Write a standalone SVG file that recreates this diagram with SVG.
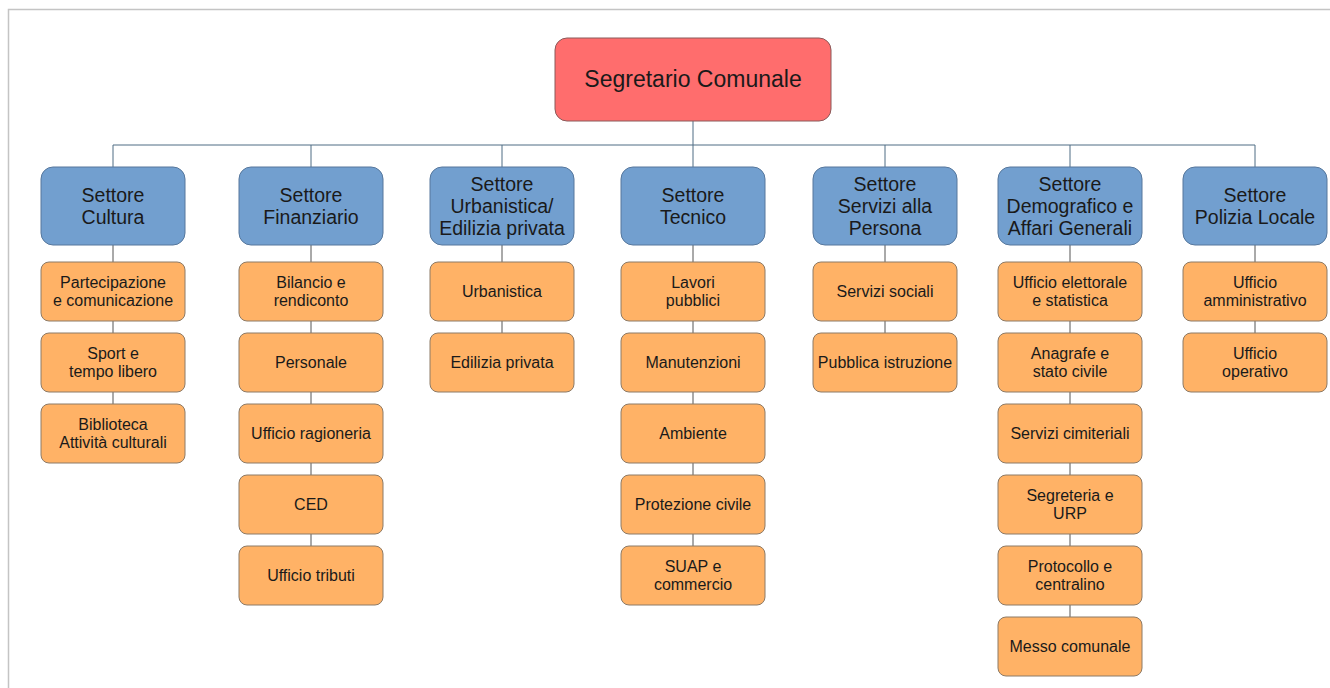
<svg xmlns="http://www.w3.org/2000/svg" width="1330" height="688" viewBox="0 0 1330 688">
<style>
text{font-family:"Liberation Sans",Arial,sans-serif;fill:#1a1a1a;text-anchor:middle}
.top rect{fill:#ff6d6d;stroke:#8a5a5a;stroke-width:1}
.top text{font-size:23px}
.sec rect{fill:#729fcf;stroke:#56779c;stroke-width:1}
.sec text{font-size:19.5px}
.off rect{fill:#ffb266;stroke:#8c7a66;stroke-width:1}
.off text{font-size:16px}
.lk{stroke:#4f6d84;stroke-width:1;fill:none}
.lc{stroke:#555;stroke-width:1;fill:none}
</style>
<rect x="0" y="0" width="1330" height="688" fill="#fff"/>
<path d="M8.5,688 V9.5 H1330" fill="none" stroke="#c4c4c4" stroke-width="1.5"/>

<g id="connectors">
<path class="lk" d="M693,121 V145 M113,145 H1255 M113,145 V167 M311,145 V167 M502,145 V167 M693,145 V167 M885,145 V167 M1070,145 V167 M1255,145 V167"/>
<path class="lc" d="M113,245 V262 M113,321 V333 M113,392 V404
M311,245 V262 M311,321 V333 M311,392 V404 M311,463 V475 M311,534 V546
M502,245 V262 M502,321 V333
M693,245 V262 M693,321 V333 M693,392 V404 M693,463 V475 M693,534 V546
M885,245 V262 M885,321 V333
M1070,245 V262 M1070,321 V333 M1070,392 V404 M1070,463 V475 M1070,534 V546 M1070,605 V617
M1255,245 V262 M1255,321 V333"/>
</g>

<g id="segretario" class="top"><rect x="555" y="38" width="276" height="83" rx="12"/><text x="693" y="87">Segretario Comunale</text></g>

<g id="sett-cultura" class="sec"><rect x="41" y="167" width="144" height="78" rx="12"/><text x="113" y="202">Settore<tspan x="113" dy="22">Cultura</tspan></text></g>
<g id="sett-finanziario" class="sec"><rect x="239" y="167" width="144" height="78" rx="12"/><text x="311" y="202">Settore<tspan x="311" dy="22">Finanziario</tspan></text></g>
<g id="sett-urbanistica" class="sec"><rect x="430" y="167" width="144" height="78" rx="12"/><text x="502" y="191">Settore<tspan x="502" dy="22">Urbanistica/</tspan><tspan x="502" dy="22">Edilizia privata</tspan></text></g>
<g id="sett-tecnico" class="sec"><rect x="621" y="167" width="144" height="78" rx="12"/><text x="693" y="202">Settore<tspan x="693" dy="22">Tecnico</tspan></text></g>
<g id="sett-servizi" class="sec"><rect x="813" y="167" width="144" height="78" rx="12"/><text x="885" y="191">Settore<tspan x="885" dy="22">Servizi alla</tspan><tspan x="885" dy="22">Persona</tspan></text></g>
<g id="sett-demografico" class="sec"><rect x="998" y="167" width="144" height="78" rx="12"/><text x="1070" y="191">Settore<tspan x="1070" dy="22">Demografico e</tspan><tspan x="1070" dy="22">Affari Generali</tspan></text></g>
<g id="sett-polizia" class="sec"><rect x="1183" y="167" width="144" height="78" rx="12"/><text x="1255" y="202">Settore<tspan x="1255" dy="22">Polizia Locale</tspan></text></g>

<!-- Cultura -->
<g id="partecipazione" class="off"><rect x="41" y="262" width="144" height="59" rx="8"/><text x="113" y="288">Partecipazione<tspan x="113" dy="18">e comunicazione</tspan></text></g>
<g id="sport" class="off"><rect x="41" y="333" width="144" height="59" rx="8"/><text x="113" y="359">Sport e<tspan x="113" dy="18">tempo libero</tspan></text></g>
<g id="biblioteca" class="off"><rect x="41" y="404" width="144" height="59" rx="8"/><text x="113" y="430">Biblioteca<tspan x="113" dy="18">Attività culturali</tspan></text></g>

<!-- Finanziario -->
<g id="bilancio" class="off"><rect x="239" y="262" width="144" height="59" rx="8"/><text x="311" y="288">Bilancio e<tspan x="311" dy="18">rendiconto</tspan></text></g>
<g id="personale" class="off"><rect x="239" y="333" width="144" height="59" rx="8"/><text x="311" y="368">Personale</text></g>
<g id="ragioneria" class="off"><rect x="239" y="404" width="144" height="59" rx="8"/><text x="311" y="439">Ufficio ragioneria</text></g>
<g id="ced" class="off"><rect x="239" y="475" width="144" height="59" rx="8"/><text x="311" y="510">CED</text></g>
<g id="tributi" class="off"><rect x="239" y="546" width="144" height="59" rx="8"/><text x="311" y="581">Ufficio tributi</text></g>

<!-- Urbanistica -->
<g id="urbanistica" class="off"><rect x="430" y="262" width="144" height="59" rx="8"/><text x="502" y="297">Urbanistica</text></g>
<g id="edilizia" class="off"><rect x="430" y="333" width="144" height="59" rx="8"/><text x="502" y="368">Edilizia privata</text></g>

<!-- Tecnico -->
<g id="lavori" class="off"><rect x="621" y="262" width="144" height="59" rx="8"/><text x="693" y="288">Lavori<tspan x="693" dy="18">pubblici</tspan></text></g>
<g id="manutenzioni" class="off"><rect x="621" y="333" width="144" height="59" rx="8"/><text x="693" y="368">Manutenzioni</text></g>
<g id="ambiente" class="off"><rect x="621" y="404" width="144" height="59" rx="8"/><text x="693" y="439">Ambiente</text></g>
<g id="protezione" class="off"><rect x="621" y="475" width="144" height="59" rx="8"/><text x="693" y="510">Protezione civile</text></g>
<g id="suap" class="off"><rect x="621" y="546" width="144" height="59" rx="8"/><text x="693" y="572">SUAP e<tspan x="693" dy="18">commercio</tspan></text></g>

<!-- Servizi alla Persona -->
<g id="sociali" class="off"><rect x="813" y="262" width="144" height="59" rx="8"/><text x="885" y="297">Servizi sociali</text></g>
<g id="istruzione" class="off"><rect x="813" y="333" width="144" height="59" rx="8"/><text x="885" y="368">Pubblica istruzione</text></g>

<!-- Demografico -->
<g id="elettorale" class="off"><rect x="998" y="262" width="144" height="59" rx="8"/><text x="1070" y="288">Ufficio elettorale<tspan x="1070" dy="18">e statistica</tspan></text></g>
<g id="anagrafe" class="off"><rect x="998" y="333" width="144" height="59" rx="8"/><text x="1070" y="359">Anagrafe e<tspan x="1070" dy="18">stato civile</tspan></text></g>
<g id="cimiteriali" class="off"><rect x="998" y="404" width="144" height="59" rx="8"/><text x="1070" y="439">Servizi cimiteriali</text></g>
<g id="segreteria" class="off"><rect x="998" y="475" width="144" height="59" rx="8"/><text x="1070" y="501">Segreteria e<tspan x="1070" dy="18">URP</tspan></text></g>
<g id="protocollo" class="off"><rect x="998" y="546" width="144" height="59" rx="8"/><text x="1070" y="572">Protocollo e<tspan x="1070" dy="18">centralino</tspan></text></g>
<g id="messo" class="off"><rect x="998" y="617" width="144" height="59" rx="8"/><text x="1070" y="652">Messo comunale</text></g>

<!-- Polizia -->
<g id="amministrativo" class="off"><rect x="1183" y="262" width="144" height="59" rx="8"/><text x="1255" y="288">Ufficio<tspan x="1255" dy="18">amministrativo</tspan></text></g>
<g id="operativo" class="off"><rect x="1183" y="333" width="144" height="59" rx="8"/><text x="1255" y="359">Ufficio<tspan x="1255" dy="18">operativo</tspan></text></g>
</svg>
